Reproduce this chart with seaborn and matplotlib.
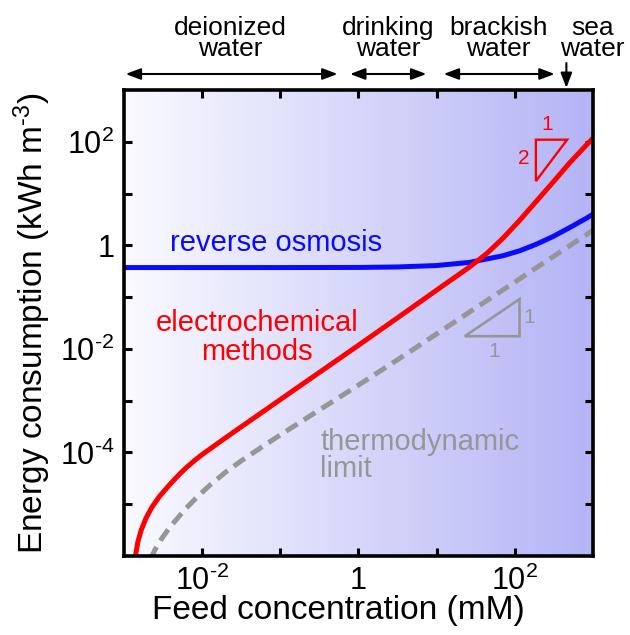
import numpy as np
import pandas as pd
import matplotlib
matplotlib.use("Agg")
import matplotlib.pyplot as plt
import matplotlib.transforms as mtransforms
from matplotlib.colors import LinearSegmentedColormap
from matplotlib.ticker import NullLocator
from matplotlib.patches import Polygon
import seaborn as sns

# Reverse osmosis: feed concentration (mM) vs energy (kWh m^-3)
ro_conc = [1e-3, 1e-2, 1e-1, 1.0, 3.16, 10.0, 26.3, 70.8, 115, 186, 309, 501, 851, 1000]
ro_energy = [0.372, 0.372, 0.372, 0.374, 0.382, 0.407, 0.468, 0.63, 0.783, 1.04, 1.48, 2.19, 3.43, 3.98]

# Electrochemical methods
ec_conc = [1.38e-3, 1.51e-3, 1.66e-3, 1.91e-3, 2.29e-3, 2.88e-3, 3.80e-3, 4.47e-3, 5.25e-3,
           6.31e-3, 7.94e-3, 1.0e-2, 1.26e-2, 1.78e-2, 2.51e-2, 6.31e-2, 0.158, 0.398, 0.955,
           3.16, 11.0, 26.3, 43.7, 70.8, 115, 186, 309, 501, 851, 1000]
ec_energy = [8.9e-7, 1.91e-6, 3.16e-6, 5.37e-6, 8.91e-6, 1.45e-5, 2.34e-5, 3.05e-5, 3.94e-5,
             5.13e-5, 6.92e-5, 9.12e-5, 1.17e-4, 1.70e-4, 2.45e-4, 6.46e-4, 1.70e-3, 4.47e-3, 1.12e-2,
             3.98e-2, 0.151, 0.380, 0.692, 1.38, 3.02, 6.92, 16.6, 38.9, 91.2, 117]

# Thermodynamic limit
th_conc = [2.19e-3, 2.51e-3, 3.02e-3, 3.55e-3, 4.47e-3, 6.31e-3, 8.91e-3, 1.26e-2, 2.00e-2,
           3.39e-2, 8.91e-2, 0.316, 0.955, 3.16, 11.0, 31.6, 100, 316, 1000]
th_energy = [8.7e-7, 1.35e-6, 2.14e-6, 3.02e-6, 4.68e-6, 8.51e-6, 1.45e-5, 2.34e-5, 4.17e-5,
             7.41e-5, 1.95e-4, 6.61e-4, 1.91e-3, 6.17e-3, 2.14e-2, 6.17e-2, 0.195, 0.617, 1.95]

# Water categories along the concentration axis
category_names = ["deionized", "drinking", "brackish", "sea"]
category_ranges = [(1.05e-3, 0.54), (0.78, 7.4), (12.3, 324), None]
seawater_conc = 457

x_ticks = [1e-2, 1e-1, 1, 10, 100]
x_ticklabels = [r"$10^{\text{-2}}$", "", "1", "", r"$10^{2}$"]
y_ticks = [1e-5, 1e-4, 1e-3, 1e-2, 1e-1, 1, 10, 100]
y_ticklabels = ["", r"$10^{\text{-4}}$", "", r"$10^{\text{-2}}$", "", "1", "", r"$10^{2}$"]

sns.set_theme(style="ticks")
plt.rcParams["font.family"] = ["Liberation Sans", "DejaVu Sans"]
plt.rcParams["mathtext.fontset"] = "custom"
plt.rcParams["mathtext.rm"] = "Liberation Sans"
plt.rcParams["mathtext.it"] = "Liberation Sans:italic"
plt.rcParams["mathtext.bf"] = "Liberation Sans:bold"
plt.rcParams["text.color"] = "black"
plt.rcParams["axes.labelcolor"] = "black"
plt.rcParams["xtick.color"] = "black"
plt.rcParams["ytick.color"] = "black"

fig = plt.figure(figsize=(6.3, 6.35), dpi=100)
pos = [0.1968, 0.1244, 0.7444, 0.7339]

# Horizontal white-to-blue backdrop
bg = fig.add_axes(pos, zorder=0)
cmap = LinearSegmentedColormap.from_list("backdrop", ["#fafaff", "#b4b4f6"])
bg.imshow(np.linspace(0, 1, 512)[None, :], cmap=cmap, aspect="auto",
          extent=(0, 1, 0, 1), interpolation="bilinear")
bg.set_axis_off()

ax = fig.add_axes(pos, zorder=1)
ax.set_facecolor("none")
ax.set_xscale("log")
ax.set_yscale("log")

ro = pd.DataFrame({"conc": ro_conc, "energy": ro_energy})
ec = pd.DataFrame({"conc": ec_conc, "energy": ec_energy})
th = pd.DataFrame({"conc": th_conc, "energy": th_energy})

sns.lineplot(data=th, x="conc", y="energy", ax=ax, color="#969696", lw=3.6,
             sort=False, estimator=None, linestyle=(0, (2.7, 1.5)))
sns.lineplot(data=ro, x="conc", y="energy", ax=ax, color="#0a0aff", lw=3.6,
             sort=False, estimator=None)
sns.lineplot(data=ec, x="conc", y="energy", ax=ax, color="#ff0000", lw=3.6,
             sort=False, estimator=None)

ax.set_xlim(1e-3, 1e3)
ax.set_ylim(1e-6, 1e3)
ax.set_xticks(x_ticks)
ax.set_xticklabels(x_ticklabels)
ax.set_yticks(y_ticks)
ax.set_yticklabels(y_ticklabels)
ax.xaxis.set_minor_locator(NullLocator())
ax.yaxis.set_minor_locator(NullLocator())
ax.tick_params(which="major", direction="in", length=6, width=2.2, top=True, right=True,
               labelsize=22, pad=7, colors="black")
for sp in ax.spines.values():
    sp.set_linewidth(2.6)
    sp.set_color("black")

ax.set_xlabel("Feed concentration (mM)", fontsize=24, color="black")
ax.set_ylabel(r"Energy consumption (kWh m$^{\text{-3}}$)", fontsize=24, color="black")
ax.xaxis.set_label_coords(0.458, -0.083)
ax.yaxis.set_label_coords(-0.152, 0.5)

# Curve labels
ax.text(10**-2.41, 10**-0.11, "reverse osmosis", color="#0a0aff", fontsize=21, ha="left", va="baseline")
ax.text(10**-1.30, 10**-1.65, "electrochemical", color="#ff0000", fontsize=21, ha="center", va="baseline")
ax.text(10**-1.30, 10**-2.22, "methods", color="#ff0000", fontsize=21, ha="center", va="baseline")
ax.text(10**-0.49, 10**-3.96, "thermodynamic", color="#969696", fontsize=21, ha="left", va="baseline")
ax.text(10**-0.49, 10**-4.48, "limit", color="#969696", fontsize=21, ha="left", va="baseline")

# Slope triangles
red_tri = Polygon([(10**2.27, 10**2.04), (10**2.67, 10**2.04), (10**2.27, 10**1.24)],
                  closed=True, fill=False, edgecolor="#ff0000", lw=1.7)
ax.add_patch(red_tri)
ax.text(10**2.41, 10**2.33, "1", color="#ff0000", fontsize=15, ha="center", va="center")
ax.text(10**2.11, 10**1.68, "2", color="#ff0000", fontsize=15, ha="center", va="center")
gray_tri = Polygon([(10**1.36, 10**-1.755), (10**2.06, 10**-1.755), (10**2.06, 10**-1.04)],
                   closed=True, fill=False, edgecolor="#969696", lw=1.9)
ax.add_patch(gray_tri)
ax.text(10**2.18, 10**-1.40, "1", color="#969696", fontsize=15, ha="center", va="center")
ax.text(10**1.74, 10**-2.05, "1", color="#969696", fontsize=15, ha="center", va="center")

# Water categories above the plot
top = mtransforms.blended_transform_factory(ax.transData, fig.transFigure)
label_x = [10**-1.64, 10**0.38, 10**1.79, 10**2.99]
for name, lx in zip(category_names, label_x):
    ax.text(lx, 1 - 35 / 635, name, transform=top, fontsize=19, ha="center",
            va="baseline", clip_on=False, color="black")
    ax.text(lx, 1 - 56 / 635, "water", transform=top, fontsize=19, ha="center",
            va="baseline", clip_on=False, color="black")

arrow_y = 1 - 74 / 635
for rng in category_ranges:
    if rng is None:
        continue
    ax.annotate("", xy=(rng[1], arrow_y), xytext=(rng[0], arrow_y), xycoords=top,
                textcoords=top, annotation_clip=False,
                arrowprops=dict(arrowstyle="<|-|>,head_length=0.45,head_width=0.17",
                                mutation_scale=20, lw=1.5, color="black",
                                shrinkA=0, shrinkB=0))
ax.annotate("", xy=(seawater_conc, 1 - 88 / 635), xytext=(seawater_conc, 1 - 63 / 635),
            xycoords=top, textcoords=top, annotation_clip=False,
            arrowprops=dict(arrowstyle="-|>,head_length=0.45,head_width=0.17",
                            mutation_scale=20, lw=1.5, color="black",
                            shrinkA=0, shrinkB=0))

fig.savefig("out.png", dpi=100)
